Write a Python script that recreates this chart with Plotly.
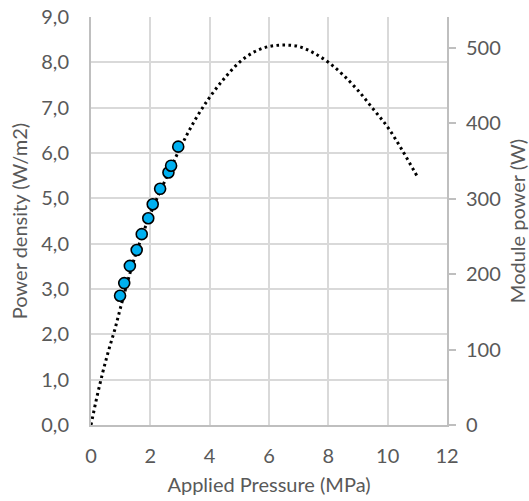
import plotly.graph_objects as go

# Trendline
trend_x = [0.0, 0.2, 0.4, 0.6, 0.8, 1.0, 1.5, 2.0, 2.5, 3.0, 3.5, 4.0, 4.5, 5.0, 5.5,
           6.0, 6.5, 7.0, 7.5, 8.0, 8.5, 9.0, 9.5, 10.0, 10.5, 11.0]
trend_y = [0.0, 0.62, 1.17, 1.66, 2.1, 2.6, 3.75, 4.65, 5.4, 6.1, 6.72, 7.23, 7.65, 8.0, 8.23,
           8.35, 8.38, 8.35, 8.21, 8.0, 7.72, 7.38, 6.98, 6.57, 6.05, 5.48]

# Measured points
pressure = [0.98, 1.12, 1.31, 1.54, 1.71, 1.93, 2.08, 2.33, 2.61, 2.70, 2.94]
density = [2.85, 3.13, 3.51, 3.86, 4.21, 4.56, 4.87, 5.21, 5.57, 5.72, 6.14]

left_ticks = [0, 1, 2, 3, 4, 5, 6, 7, 8, 9]
right_ticks = [0, 100, 200, 300, 400, 500]
x_ticks = [0, 2, 4, 6, 8, 10, 12]

txt = "#595959"
font = "Lato"
fs = 20

fig = go.Figure()
fig.add_trace(go.Scatter(
    x=trend_x, y=trend_y, mode="lines", line_shape="spline",
    line=dict(color="black", width=3, dash="2.6px,3.4px"),
    hoverinfo="skip", showlegend=False))
fig.add_trace(go.Scatter(
    x=pressure, y=density, mode="markers",
    marker=dict(size=11, color="#00B0F0", line=dict(color="black", width=1.6)),
    showlegend=False))
fig.add_trace(go.Scatter(
    x=[0, 0], y=[0, 0], yaxis="y2", mode="markers",
    marker=dict(opacity=0), hoverinfo="skip", showlegend=False))

fig.update_layout(
    width=529, height=501,
    margin=dict(l=91, r=82, t=17, b=76, autoexpand=False),
    paper_bgcolor="white", plot_bgcolor="white",
    separators=",.",
    font=dict(family=font, size=fs, color=txt),
    xaxis=dict(
        range=[0, 12], tickvals=x_ticks, showgrid=True, gridcolor="#D9D9D9", gridwidth=1.5,
        zeroline=False, showline=True, linecolor="#BFBFBF", linewidth=2, mirror=False,
        ticks="", ticklabelstandoff=12, automargin=False,
        title=dict(text="Applied Pressure (MPa)", font=dict(size=fs, color=txt), standoff=12),
        tickfont=dict(size=fs, color=txt)),
    yaxis=dict(
        range=[0, 9], tickvals=left_ticks, tickformat=".1f", showgrid=True,
        gridcolor="#D9D9D9", gridwidth=1.5, zeroline=False, showline=True,
        linecolor="#BFBFBF", linewidth=2, ticks="", ticklabelstandoff=16, automargin=False,
        title=dict(text="Power density (W/m2)", font=dict(size=fs, color=txt), standoff=8),
        tickfont=dict(size=fs, color=txt)),
    yaxis2=dict(
        range=[0, 541], tickvals=right_ticks, overlaying="y", side="right",
        showgrid=False, zeroline=False, showline=True, linecolor="#BFBFBF", linewidth=2,
        ticks="outside", ticklen=7, tickwidth=1.5, tickcolor="#BFBFBF", ticklabelstandoff=6,
        automargin=False,
        title=dict(text="Module power (W)", font=dict(size=fs, color=txt), standoff=12),
        tickfont=dict(size=fs, color=txt)),
)

fig.write_html("out.html")
